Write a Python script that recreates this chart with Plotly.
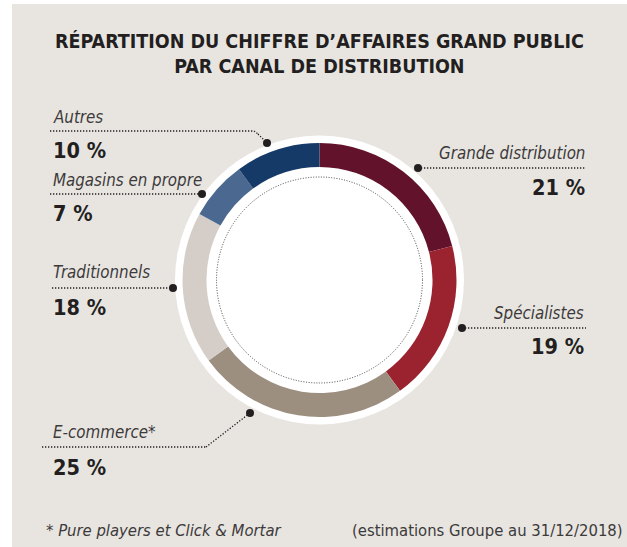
import plotly.graph_objects as go

W, H = 627, 547

# ---- data ----
categories = ["Grande distribution", "Spécialistes", "E-commerce*", "Traditionnels", "Magasins en propre", "Autres"]
shares = [21, 19, 25, 18, 7, 10]
colors = ["#63122B", "#9B2330", "#9D8F80", "#D5CEC8", "#4A6890", "#163A68"]
pct_labels = [f"{v} %" for v in shares]

title_lines = ["RÉPARTITION DU CHIFFRE D’AFFAIRES GRAND PUBLIC", "PAR CANAL DE DISTRIBUTION"]
footnote_left = "* Pure players et Click & Mortar"
footnote_right = "(estimations Groupe au 31/12/2018)"

BG = "#E8E5E1"
INK = "#231F20"
LABEL_INK = "#3C3A3A"
COND = "Liberation Sans Narrow, DejaVu Sans Condensed, Roboto, sans-serif"


def px(x):
    return x / W


def py(y):
    return 1 - y / H


cx, cy, r_out = 319.5, 280, 137

fig = go.Figure()
fig.add_trace(go.Pie(
    labels=categories,
    values=shares,
    marker=dict(colors=colors, line=dict(width=0)),
    hole=0.825,
    sort=False,
    direction="clockwise",
    rotation=0,
    textinfo="none",
    hoverinfo="label+percent",
    showlegend=False,
    domain=dict(x=[px(cx - r_out), px(cx + r_out)], y=[py(cy + r_out), py(cy - r_out)]),
))

shapes = []
# panel background
shapes.append(dict(type="rect", xref="paper", yref="paper", x0=px(12), x1=1, y0=0, y1=py(4),
                   fillcolor=BG, line=dict(width=0), layer="below"))
# white disc behind the ring
R_w = 144.5
shapes.append(dict(type="circle", xref="paper", yref="paper", x0=px(cx - R_w), x1=px(cx + R_w),
                   y0=py(cy + R_w), y1=py(cy - R_w), fillcolor="white", line=dict(width=0), layer="below"))
# dotted inner circle
R_d = 103
shapes.append(dict(type="circle", xref="paper", yref="paper", x0=px(cx - R_d), x1=px(cx + R_d),
                   y0=py(cy + R_d), y1=py(cy - R_d), line=dict(color="#444", width=1, dash="1px,1.6px"),
                   layer="above"))

# leader lines: (polyline points, dot position)
leaders = {
    "Autres": ([(50, 131), (254, 131), (258, 134), (267, 143)], (267, 143)),
    "Magasins en propre": ([(50, 194), (202, 194)], (202, 194)),
    "Traditionnels": ([(52, 288), (173, 288)], (173, 288)),
    "E-commerce*": ([(42, 447), (206, 447), (250, 413)], (250, 413)),
    "Grande distribution": ([(418, 168), (586, 168)], (418, 168)),
    "Spécialistes": ([(462, 328), (586, 328)], (462, 328)),
}
for name, (pts, dot) in leaders.items():
    for (x0, y0), (x1, y1) in zip(pts[:-1], pts[1:]):
        shapes.append(dict(type="line", xref="paper", yref="paper", x0=px(x0), y0=py(y0), x1=px(x1), y1=py(y1),
                           line=dict(color=INK, width=1.3, dash="1.3px,1.7px"), layer="above"))
    rd = 4
    shapes.append(dict(type="circle", xref="paper", yref="paper", x0=px(dot[0] - rd), x1=px(dot[0] + rd),
                       y0=py(dot[1] + rd), y1=py(dot[1] - rd), fillcolor=INK, line=dict(width=0), layer="above"))

# label positions: (x, y_name, y_pct, anchor)
label_pos = {
    "Grande distribution": (587, 153, 187, "right"),
    "Spécialistes": (586, 313, 346, "right"),
    "E-commerce*": (51, 432, 467, "left"),
    "Traditionnels": (51, 272, 307, "left"),
    "Magasins en propre": (51, 180, 213, "left"),
    "Autres": (51, 117, 150, "left"),
}

annotations = []
for name, pct in zip(categories, pct_labels):
    x, yn, yp, anc = label_pos[name]
    annotations.append(dict(text=f"<i>{name}</i>", x=px(x), y=py(yn), xref="paper", yref="paper",
                            xanchor=anc, yanchor="middle", showarrow=False,
                            font=dict(family=COND, size=16.8, color=LABEL_INK)))
    annotations.append(dict(text=f"<b>{pct}</b>", x=px(x), y=py(yp), xref="paper", yref="paper",
                            xanchor=anc, yanchor="middle", showarrow=False,
                            font=dict(family=COND, size=21.5, color=INK)))

annotations.append(dict(text="<b>" + "<br>".join(title_lines) + "</b>", x=px(319), y=py(54),
                        xref="paper", yref="paper", xanchor="center", yanchor="middle", showarrow=False,
                        align="center", font=dict(family=COND, size=19.5, color=INK)))

annotations.append(dict(text=f"<i>{footnote_left}</i>", x=px(44), y=py(530), xref="paper", yref="paper",
                        xanchor="left", yanchor="middle", showarrow=False,
                        font=dict(family=COND, size=16.5, color=LABEL_INK)))
annotations.append(dict(text=footnote_right, x=px(625), y=py(530), xref="paper", yref="paper",
                        xanchor="right", yanchor="middle", showarrow=False,
                        font=dict(family=COND, size=16.5, color=LABEL_INK)))

fig.update_layout(
    width=W, height=H,
    margin=dict(l=0, r=0, t=0, b=0),
    paper_bgcolor="white",
    plot_bgcolor="white",
    shapes=shapes,
    annotations=annotations,
    showlegend=False,
)

fig.write_html(
    "out.html",
    config={"displayModeBar": False},
    post_script="document.body.style.margin='0';document.body.style.overflow='hidden';",
)
